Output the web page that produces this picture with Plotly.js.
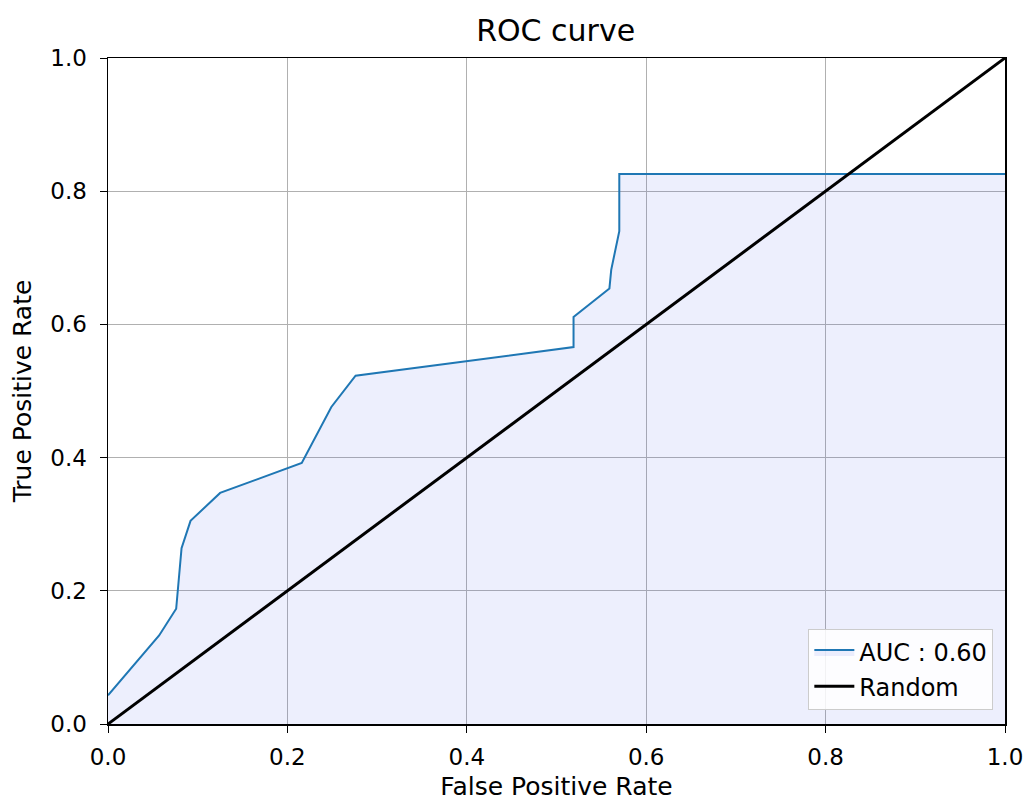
<!DOCTYPE html>
<html>
<head>
<meta charset="utf-8">
<script src="https://cdn.plot.ly/plotly-3.0.1.min.js"></script>
<style>body{margin:0;background:#fff}#chart{width:1029px;height:801px}</style>
</head>
<body>
<div id="chart"></div>
<script>
const fpr = [0.0, 0.057, 0.076, 0.082, 0.092, 0.125, 0.216, 0.234, 0.249, 0.276, 0.381, 0.519, 0.519, 0.559, 0.561, 0.570, 0.570, 1.0];
const tpr = [0.043, 0.133, 0.173, 0.264, 0.305, 0.347, 0.392, 0.439, 0.476, 0.523, 0.542, 0.566, 0.611, 0.654, 0.682, 0.740, 0.826, 0.826];
const randomX = [0, 1];
const randomY = [0, 1];
const aucLabel = "AUC : 0.60";
const tickVals = [0, 0.2, 0.4, 0.6, 0.8, 1.0];

const font = "DejaVu Sans, sans-serif";
const traces = [
  {x: fpr, y: tpr, mode: "lines", name: aucLabel, fill: "tozeroy", fillcolor: "rgba(60,80,230,0.09)",
   line: {color: "#1f77b4", width: 2}},
  {x: randomX, y: randomY, mode: "lines", name: "Random", line: {color: "#000000", width: 3}}
];
const axisCommon = {
  range: [0, 1], tickvals: tickVals, tickformat: ".1f", showgrid: true, gridcolor: "#b0b0b0", gridwidth: 1.2,
  zeroline: false, showline: true, linecolor: "#000", linewidth: 1.5, mirror: true, automargin: false,
  ticks: "outside", ticklen: 7, tickcolor: "#000", tickfont: {family: font, size: 23, color: "#000"}
};
const layout = {
  width: 1029, height: 801,
  margin: {l: 108, r: 24, t: 58, b: 77},
  paper_bgcolor: "#fff", plot_bgcolor: "#fff",
  title: {text: "ROC curve", font: {family: font, size: 30, color: "#000"}, x: 0.540, xanchor: "center", y: 0.962, yanchor: "middle"},
  xaxis: Object.assign({}, axisCommon, {ticklabelstandoff: 5, title: {text: "False Positive Rate", font: {family: font, size: 25, color: "#000"}, standoff: 9}}),
  yaxis: Object.assign({}, axisCommon, {ticklabelstandoff: 8, title: {text: "True Positive Rate", font: {family: font, size: 25, color: "#000"}, standoff: 11}}),
  showlegend: true,
  legend: {x: 0.987, y: 0.021, xanchor: "right", yanchor: "bottom", bgcolor: "rgba(255,255,255,0.85)",
    bordercolor: "#cccccc", borderwidth: 1, font: {family: font, size: 24, color: "#000"}, itemwidth: 40,
    tracegroupgap: 4}
};
Plotly.newPlot("chart", traces, layout, {displayModeBar: false, staticPlot: true});
</script>
</body>
</html>
